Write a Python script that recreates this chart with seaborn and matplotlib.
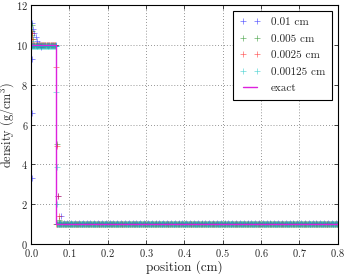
import numpy as np
import pandas as pd
import matplotlib
matplotlib.use("Agg")
import matplotlib.pyplot as plt
import seaborn as sns

# grid spacing of each run (cm), legend text and colour
spacings = [0.01, 0.005, 0.0025, 0.00125]
run_labels = ["0.01 cm", "0.005 cm", "0.0025 cm", "0.00125 cm"]
run_colors = ["#0000ff", "#008000", "#ff0000", "#00bfbf"]

# plateau densities behind / ahead of the shock for each run
rho_behind = [10.0, 10.0, 9.99, 9.97]
rho_ahead = [1.03, 1.0, 0.99, 0.97]
x_shock = 0.066
x_end = 0.8

# points that stand off the plateaus (wall heating at x=0, shock front)
blue_x = [0.003, 0.003, 0.003, 0.003, 0.006, 0.009, 0.012, 0.015, 0.02, 0.025, 0.07, 0.078]
blue_rho = [3.3, 6.6, 9.3, 11.1, 10.8, 10.6, 10.4, 10.2, 10.05, 9.9, 2.4, 1.39]
green_x = [0.002, 0.002, 0.003, 0.004, 0.0675, 0.0725]
green_rho = [11.0, 10.7, 10.5, 10.3, 5.0, 1.2]
red_x = [0.002, 0.003, 0.065, 0.0675, 0.07, 0.0725]
red_rho = [10.6, 10.3, 8.87, 4.93, 2.41, 1.41]
cyan_x = [0.001, 0.0662, 0.0675, 0.0688]
cyan_rho = [10.2, 7.64, 3.87, 2.0]

# exact solution
exact_x = [0.0, x_shock, x_shock, x_end]
exact_rho = [10.0, 10.0, 1.0, 1.0]

extra_x = [blue_x, green_x, red_x, cyan_x]
extra_rho = [blue_rho, green_rho, red_rho, cyan_rho]

sns.set_style("ticks", {
    "axes.grid": True,
    "grid.color": "0.45",
    "grid.linestyle": ":",
    "xtick.direction": "in",
    "ytick.direction": "in",
    "axes.edgecolor": "k",
})
plt.rcParams["font.family"] = ["cmr10", "DejaVu Serif"]
plt.rcParams["mathtext.fontset"] = "cm"
plt.rcParams["axes.formatter.use_mathtext"] = True
plt.rcParams["grid.linewidth"] = 0.6

fig = plt.figure(figsize=(3.46, 2.74), dpi=100)
ax = fig.add_axes([0.0896, 0.1104, 0.886, 0.8704])

for dx, lab, col, rb, ra, fx, fr in zip(spacings, run_labels, run_colors,
                                          rho_behind, rho_ahead, extra_x, extra_rho):
    x = np.arange(dx / 2, x_end, dx)
    rho = np.where(x < x_shock, rb, ra)
    df = pd.DataFrame({"position": np.concatenate([x, fx]),
                       "density": np.concatenate([rho, fr])})
    sns.lineplot(data=df, x="position", y="density", ax=ax, color=col,
                 marker="+", linestyle="", markersize=4, markeredgewidth=0.5,
                 markeredgecolor=col, markerfacecolor=col, alpha=0.6,
                 label=lab, estimator=None, sort=False)

sns.lineplot(x=exact_x, y=exact_rho, ax=ax, color="#dd22dd", lw=1.0,
             label="exact", estimator=None, sort=False)

for gl in ax.get_xgridlines() + ax.get_ygridlines():
    gl.set_dashes([1, 2.5])

ax.set_xlim(0, 0.8)
ax.set_ylim(0, 12)
ax.set_xticks(np.arange(0, 0.81, 0.1))
ax.set_yticks(np.arange(0, 13, 2))
ax.tick_params(top=True, right=True, direction="in", labelsize=7.5,
               length=3, width=0.6, pad=2)
for s in ax.spines.values():
    s.set_linewidth(0.8)
ax.set_xlabel("position (cm)", fontsize=9.5, labelpad=1)
ax.set_ylabel("density (g/cm$^3$)", fontsize=8.8, labelpad=0)

leg = ax.legend(loc="upper right", numpoints=2, fontsize=8, fancybox=False,
                edgecolor="k", framealpha=1, handlelength=1.8,
                handletextpad=1.0, labelspacing=0.6, borderpad=0.6)
leg.get_frame().set_linewidth(0.8)

fig.savefig("out.png", dpi=100)
